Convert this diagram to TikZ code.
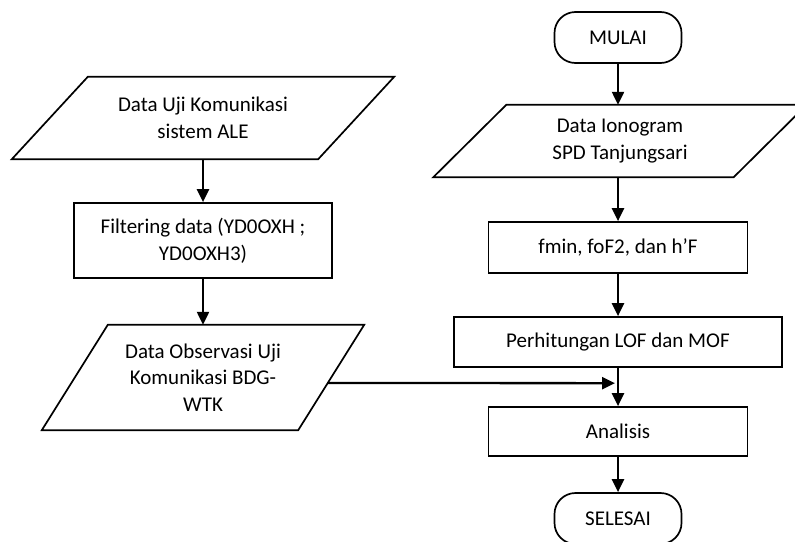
\documentclass[tikz,border=0pt]{standalone}
\usepackage{fontspec}
\setmainfont{Carlito}
\usetikzlibrary{arrows.meta,calc}
\begin{document}
\begin{tikzpicture}[x=1pt,y=-1pt,
  every node/.style={font=\fontsize{21}{26.6}\selectfont, align=center, inner sep=0pt},
  shapeline/.style={line width=1.7pt, line join=miter},
  procbox/.style={draw, shapeline, minimum width=#1},
  iobox/.style={minimum width=#1},
  terminal/.style={draw, shapeline, rounded corners=21pt, minimum width=127pt, minimum height=51pt},
  arr/.style={line width=2.3pt, -{Triangle[length=13pt,width=12pt]}}
]
\useasboundingbox (0,0) rectangle (795,541);

% left column
\node[iobox=306pt, minimum height=82pt] (p1) at (203,118) {Data Uji Komunikasi\\sistem ALE};
\draw[shapeline] ([xshift=38pt]p1.north west) -- ([xshift=38pt]p1.north east) -- ([xshift=-38pt]p1.south east) -- ([xshift=-38pt]p1.south west) -- cycle;

\node[procbox=258pt, minimum height=75pt] (f) at (203,240.5) {Filtering data (YD0OXH ;\\YD0OXH3)};

\node[iobox=256pt, minimum height=105pt] (p3) at (203,377.5) {Data Observasi Uji\\Komunikasi BDG-\\WTK};
\draw[shapeline] ([xshift=33pt]p3.north west) -- ([xshift=33pt]p3.north east) -- ([xshift=-33pt]p3.south east) -- ([xshift=-33pt]p3.south west) -- cycle;
\coordinate (p3tr) at ([xshift=33pt]p3.north east);
\coordinate (p3br) at ([xshift=-33pt]p3.south east);
\coordinate (p3out) at ($(p3tr)!0.552!(p3br)$);

% right column
\node[terminal] (mulai) at (618,37.5) {MULAI};

\node[iobox=300pt, minimum height=72pt] (p2) at (620,141) {Data Ionogram\\SPD Tanjungsari};
\draw[shapeline] ([xshift=36.5pt]p2.north west) -- ([xshift=36.5pt]p2.north east) -- ([xshift=-36.5pt]p2.south east) -- ([xshift=-36.5pt]p2.south west) -- cycle;

\node[procbox=259pt, minimum height=51pt] (r1) at (618,247.5) {fmin, foF2, dan h’F};
\node[procbox=328pt, minimum height=50pt] (r2) at (618,342) {Perhitungan LOF dan MOF};
\node[procbox=259pt, minimum height=49pt] (r3) at (618,431.5) {Analisis};
\node[terminal] (selesai) at (618,518.5) {SELESAI};

\coordinate (join) at ($(r2.south)!0.4!(r3.north)$);

% connectors
\draw[arr] (p1.south) -- (f.north);
\draw[arr] (f.south) -- (p3.north);
\draw[arr] (mulai.south) -- (mulai.south |- p2.north);
\draw[arr] (p2.south -| r1.north) -- (r1.north);
\draw[arr] (r1.south) -- (r2.north);
\draw[arr] (r2.south) -- (r3.north);
\draw[arr] (r3.south) -- (selesai.north);
\draw[arr] (p3out) -- ([xshift=-3pt]join);
\end{tikzpicture}
\end{document}
